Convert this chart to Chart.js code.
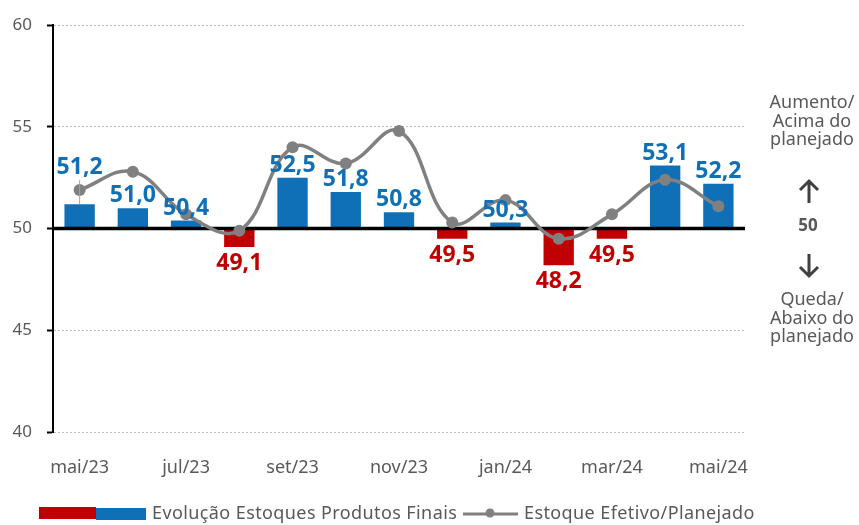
<!DOCTYPE html>
<html>
<head>
<meta charset="utf-8">
<script src="https://cdn.jsdelivr.net/npm/chart.js@4"></script>
<style>
  html, body { margin: 0; padding: 0; background: #fff; }
  #wrap { width: 859px; height: 525px; position: relative; }
</style>
</head>
<body>
<div id="wrap"><canvas id="myChart" width="859" height="525"></canvas></div>
<script>
var meses = ['mai/23','jun/23','jul/23','ago/23','set/23','out/23','nov/23','dez/23','jan/24','fev/24','mar/24','abr/24','mai/24'];
var estoquesProdutos = [51.2, 51.0, 50.4, 49.1, 52.5, 51.8, 50.8, 49.5, 50.3, 48.2, 49.5, 53.1, 52.2];
var estoqueEfetivo = [51.9, 52.8, 50.7, 49.9, 54.0, 53.2, 54.8, 50.3, 51.4, 49.5, 50.7, 52.4, 51.1];
var yTicks = [40, 45, 50, 55, 60];
var linhaBase = 50;

var azul = '#0F70B7';
var vermelho = '#C00000';
var cinza = '#808080';
var texto = '#595959';
var fonte = '"Noto Sans", sans-serif';

function fmt(v) { return v.toFixed(1).replace('.', ','); }

// bars float from the 50 line up or down
var barras = estoquesProdutos.map(function (v) { return [linhaBase, v]; });
var coresBarras = estoquesProdutos.map(function (v) { return v >= linhaBase ? azul : vermelho; });

// arrow with tip at y1
function seta(ctx, x, y1, y2) {
  var d = y2 > y1 ? 1 : -1;
  ctx.beginPath();
  ctx.moveTo(x, y1);
  ctx.lineTo(x, y2);
  ctx.moveTo(x - 9, y1 + d * 9);
  ctx.lineTo(x, y1);
  ctx.lineTo(x + 9, y1 + d * 9);
  ctx.stroke();
}

var extras = {
  id: 'extras',
  afterDatasetDraw: function (chart, args) {
    if (args.index !== 1) return;
    var ctx = chart.ctx, y = chart.scales.y, a = chart.chartArea;
    var py = y.getPixelForValue(linhaBase);
    ctx.save();
    ctx.strokeStyle = '#000';
    ctx.lineWidth = 3.5;
    ctx.beginPath();
    ctx.moveTo(a.left, py);
    ctx.lineTo(a.right, py);
    ctx.stroke();
    ctx.restore();
  },
  afterDatasetsDraw: function (chart) {
    var ctx = chart.ctx;
    var meta = chart.getDatasetMeta(1);
    var y = chart.scales.y;
    ctx.save();
    ctx.font = 'bold 23px ' + fonte;
    ctx.textAlign = 'center';
    estoquesProdutos.forEach(function (v, i) {
      var bar = meta.data[i];
      var py = y.getPixelForValue(v);
      if (v >= linhaBase) {
        var lift = i === 0 ? 24 : 0;
        if (lift) {
          ctx.strokeStyle = '#A6A6A6';
          ctx.lineWidth = 1;
          ctx.beginPath();
          ctx.moveTo(bar.x, py);
          ctx.lineTo(bar.x, py - lift);
          ctx.stroke();
        }
        ctx.fillStyle = azul;
        ctx.textBaseline = 'bottom';
        ctx.fillText(fmt(v), bar.x, py - 1 - lift);
      } else {
        ctx.fillStyle = vermelho;
        ctx.textBaseline = 'top';
        ctx.fillText(fmt(v), bar.x, py + 5);
      }
    });
    ctx.restore();
  },
  afterDraw: function (chart) {
    var ctx = chart.ctx;
    ctx.save();
    // right side note
    ctx.fillStyle = texto;
    ctx.textAlign = 'center';
    ctx.textBaseline = 'middle';
    ctx.font = '18px ' + fonte;
    ['Aumento/', 'Acima do', 'planejado'].forEach(function (t, i) { ctx.fillText(t, 812, 103 + i * 18.5); });
    ['Queda/', 'Abaixo do', 'planejado'].forEach(function (t, i) { ctx.fillText(t, 812, 300 + i * 18.5); });
    ctx.font = 'bold 17px ' + fonte;
    ctx.fillText('50', 808, 226);
    ctx.strokeStyle = '#404040';
    ctx.lineWidth = 3;
    seta(ctx, 809, 181, 203);
    seta(ctx, 809, 276, 254);

    // legend
    ctx.fillStyle = vermelho;
    ctx.fillRect(39, 507, 57, 12);
    ctx.fillStyle = azul;
    ctx.fillRect(96, 508, 50, 12);
    ctx.fillStyle = texto;
    ctx.font = '18px ' + fonte;
    ctx.letterSpacing = '0.4px';
    ctx.textAlign = 'left';
    ctx.fillText('Evolução Estoques Produtos Finais', 152, 514);
    ctx.strokeStyle = cinza;
    ctx.lineWidth = 3;
    ctx.beginPath();
    ctx.moveTo(463, 514);
    ctx.lineTo(518, 514);
    ctx.stroke();
    ctx.fillStyle = cinza;
    ctx.beginPath();
    ctx.arc(490, 513, 4.5, 0, Math.PI * 2);
    ctx.fill();
    ctx.fillStyle = texto;
    ctx.fillText('Estoque Efetivo/Planejado', 524, 514);
    ctx.restore();
  }
};

var ctx = document.getElementById('myChart').getContext('2d');
var myChart = new Chart(ctx, {
  type: 'bar',
  data: {
    labels: meses,
    datasets: [{
      type: 'line',
      label: 'Estoque Efetivo/Planejado',
      data: estoqueEfetivo,
      borderColor: cinza,
      backgroundColor: cinza,
      borderWidth: 3.5,
      pointRadius: 6,
      pointBackgroundColor: cinza,
      pointBorderWidth: 0,
      tension: 0.4,
      order: 0
    }, {
      type: 'bar',
      label: 'Evolução Estoques Produtos Finais',
      data: barras,
      backgroundColor: coresBarras,
      borderSkipped: false,
      barPercentage: 0.57,
      categoryPercentage: 1,
      order: 1
    }]
  },
  options: {
    responsive: false,
    animation: false,
    layout: { padding: { top: 25, right: 114, left: 0, bottom: 0 } },
    plugins: { legend: { display: false }, tooltip: { enabled: false } },
    scales: {
      x: {
        offset: true,
        grid: { display: false },
        border: { display: false },
        ticks: {
          autoSkip: false,
          maxRotation: 0,
          padding: 17,
          color: texto,
          font: { family: fonte, size: 18 },
          callback: function (val, i) { return i % 2 === 0 ? meses[i] : ''; }
        },
        afterFit: function (s) { s.height = 93; }
      },
      y: {
        min: yTicks[0],
        max: yTicks[yTicks.length - 1],
        afterBuildTicks: function (s) { s.ticks = yTicks.map(function (v) { return { value: v }; }); },
        grid: { color: '#BFBFBF', lineWidth: 1, tickColor: '#000', tickLength: 6, tickWidth: 2 },
        border: { display: true, color: '#000', width: 2, dash: [2, 2] },
        ticks: {
          padding: 15,
          color: texto,
          font: { family: fonte, size: 17 }
        },
        afterFit: function (s) { s.width = 53; }
      }
    }
  },
  plugins: [extras]
});
</script>
</body>
</html>
